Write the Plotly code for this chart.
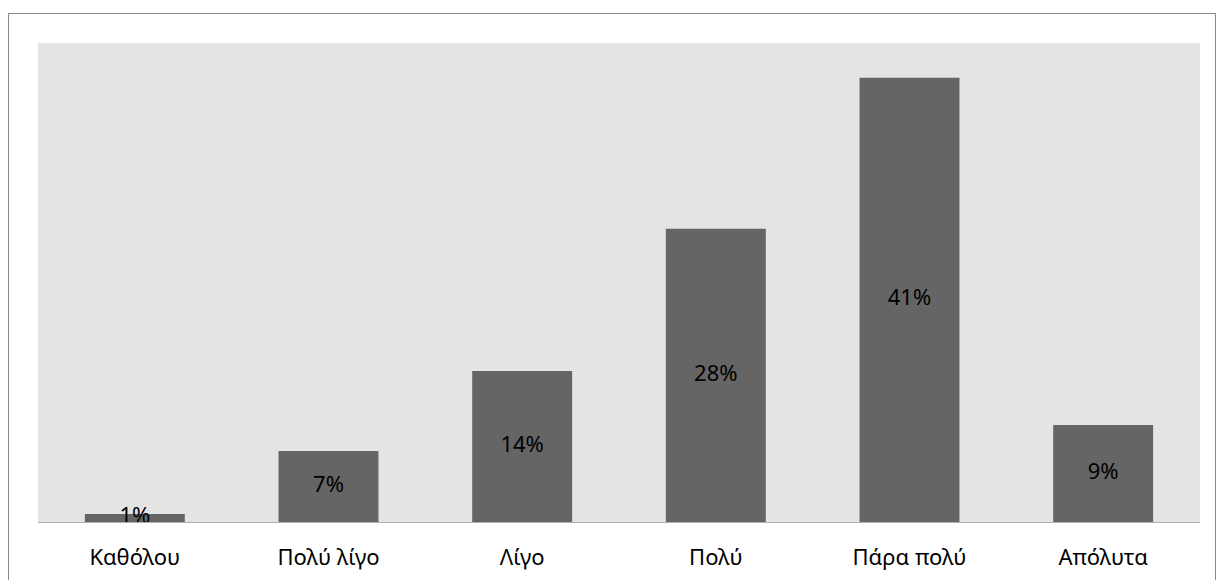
import plotly.graph_objects as go

categories = ["Καθόλου", "Πολύ λίγο", "Λίγο", "Πολύ", "Πάρα πολύ", "Απόλυτα"]
values = [0.0074, 0.0656, 0.1394, 0.2705, 0.41, 0.0896]
labels = ["1%", "7%", "14%", "28%", "41%", "9%"]

FONT = "Noto Sans"
W, H = 1216, 580
L, R, T, B = 38, 16, 43, 58
pw = W - L - R
ph = H - T - B

fig = go.Figure()
fig.add_trace(go.Bar(
    x=categories, y=values,
    marker=dict(color="#656565", line=dict(width=0)),
    hoverinfo="skip",
))
fig.add_trace(go.Scatter(
    x=categories, y=[v / 2 for v in values],
    mode="text", text=labels,
    textfont=dict(family=FONT, size=22, color="#000000"),
    textposition="middle center",
    hoverinfo="skip",
))

def px_x(x):
    return (x - L) / pw

def px_y(y):
    return 1 - (y - T) / ph

fig.add_shape(type="rect", xref="paper", yref="paper",
              x0=px_x(8.5), x1=px_x(1215.5), y0=px_y(600), y1=px_y(13.5),
              line=dict(color="#8a8a8a", width=1), fillcolor="rgba(0,0,0,0)",
              layer="below")

fig.update_layout(
    width=W, height=H,
    margin=dict(l=L, r=R, t=T, b=B, autoexpand=False),
    paper_bgcolor="white",
    plot_bgcolor="#e4e4e4",
    showlegend=False,
    bargap=0.484,
    font=dict(family=FONT, size=22, color="#000000"),
    xaxis=dict(
        showgrid=False, zeroline=False,
        showline=True, linecolor="#b0b0b0", linewidth=1,
        ticks="outside", ticklen=16, tickcolor="rgba(0,0,0,0)",
        tickfont=dict(family=FONT, size=22, color="#000000"),
        automargin=False,
        fixedrange=True,
    ),
    yaxis=dict(
        range=[0, 0.442],
        showgrid=False, zeroline=False, showline=False,
        showticklabels=False, ticks="",
        automargin=False,
        fixedrange=True,
    ),
)

fig.write_html("out.html")
